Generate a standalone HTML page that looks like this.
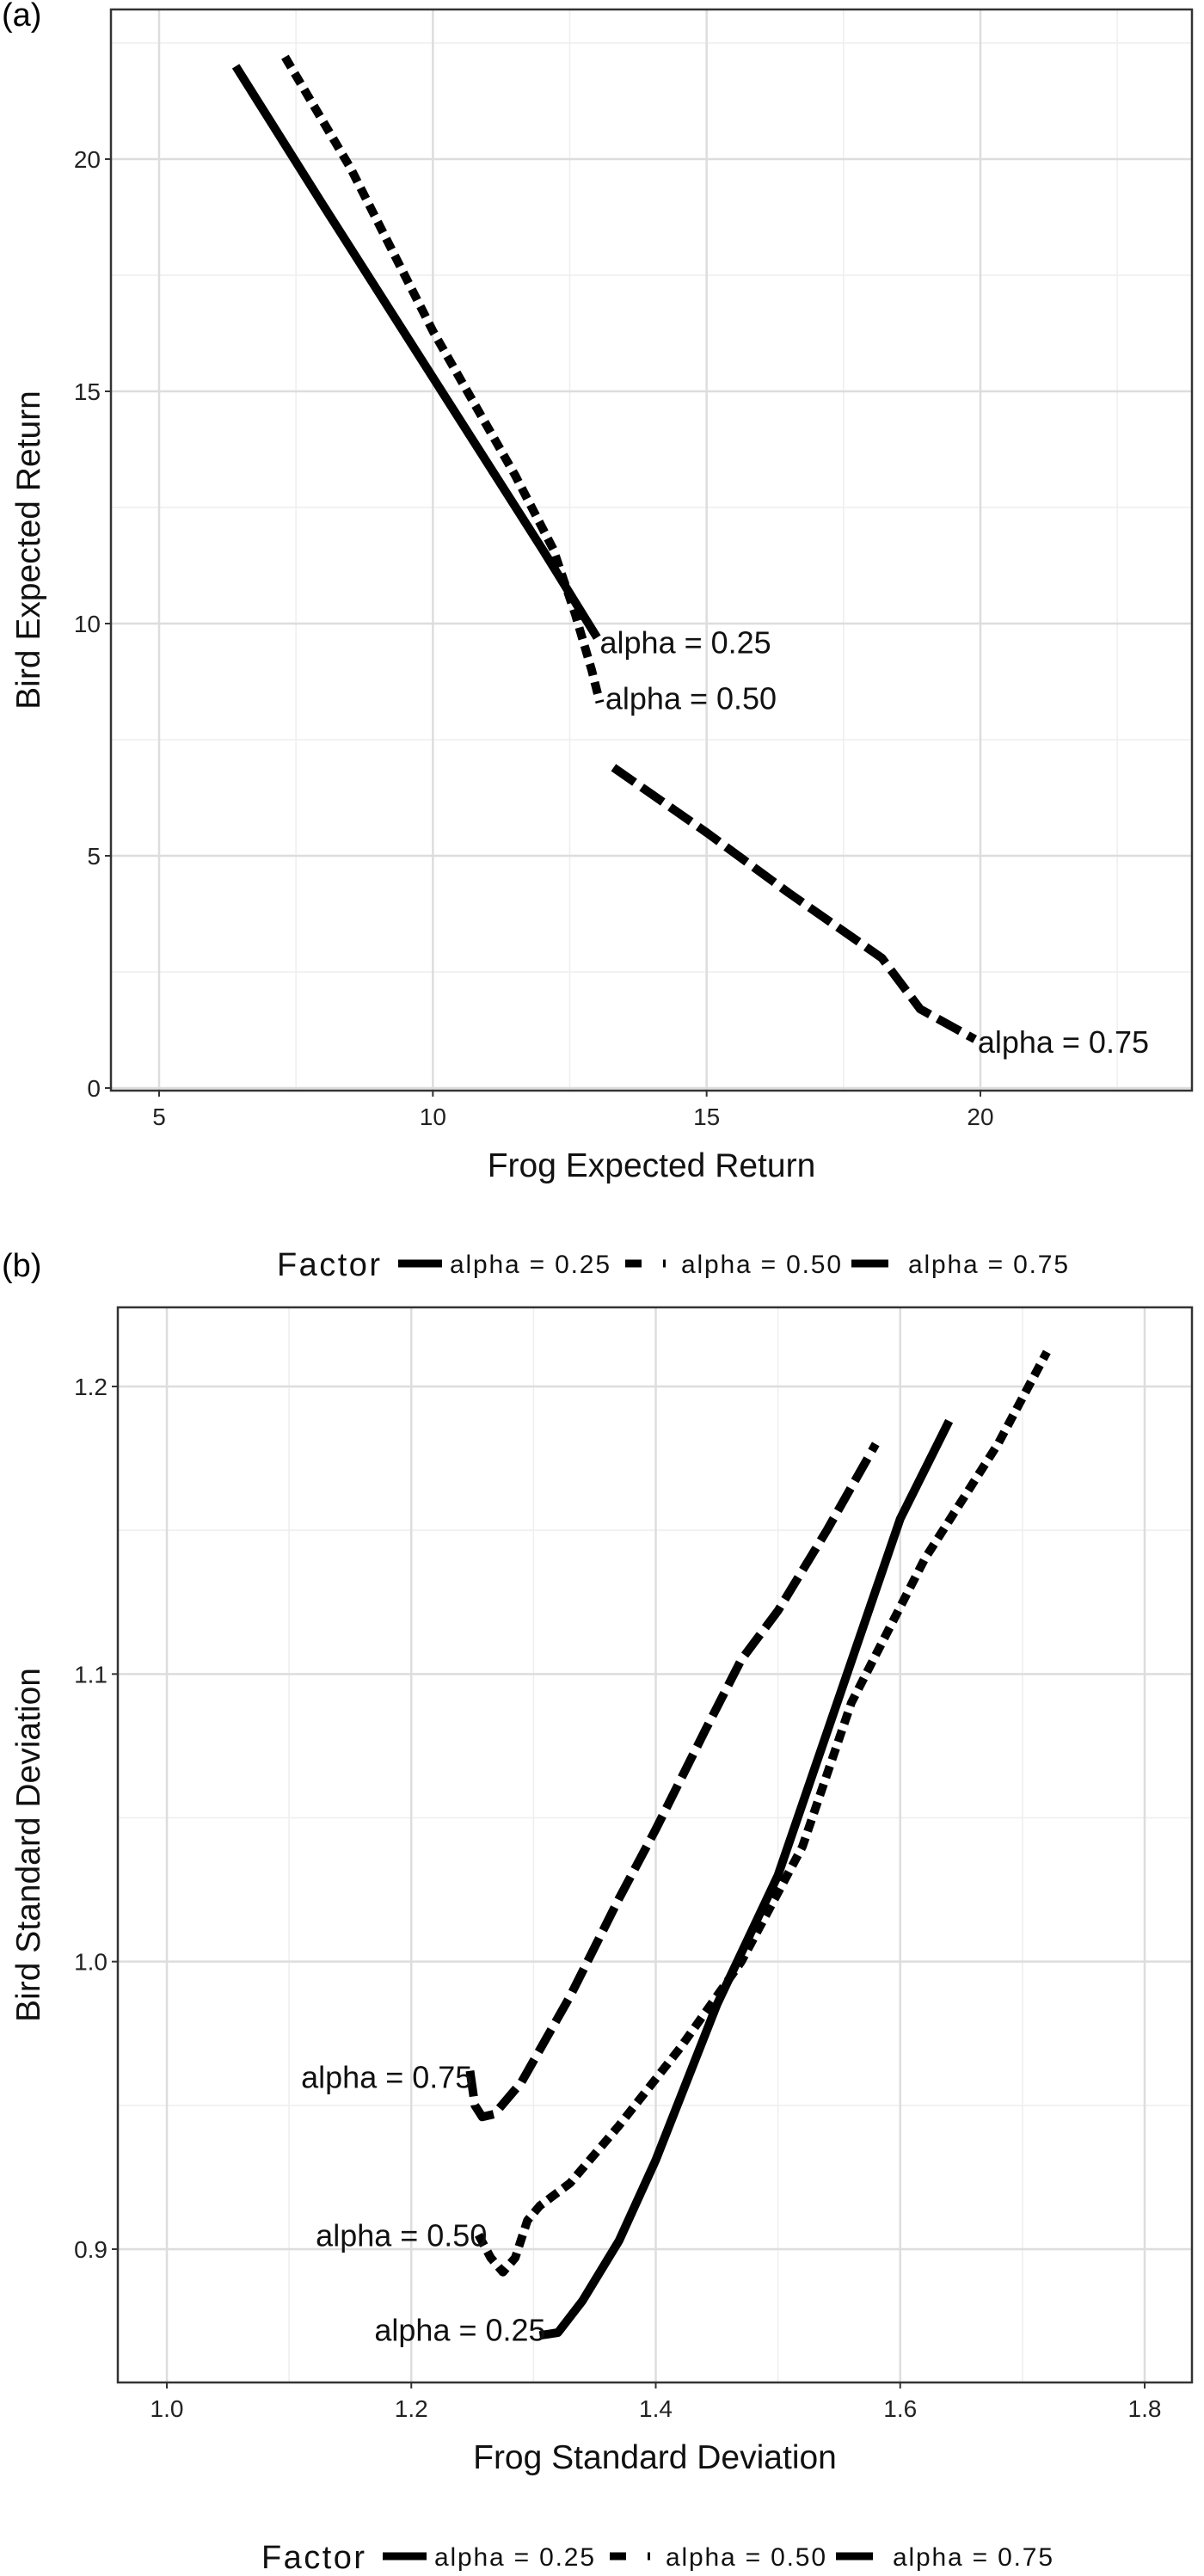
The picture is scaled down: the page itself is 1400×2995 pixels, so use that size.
<!DOCTYPE html>
<html><head><meta charset="utf-8"><style>
html,body{margin:0;padding:0;background:#fff;}
svg{display:block;font-family:"Liberation Sans",sans-serif;}
</style></head><body>
<svg id="fig" width="1400" height="2995" viewBox="0 0 1400 2995" xmlns="http://www.w3.org/2000/svg">
<text x="2" y="30" font-size="38">(a)</text>
<g id="pa"></g>
<text x="2" y="1484" font-size="38">(b)</text>
<g id="pb"></g>
</svg>
<script>
// Panel (a) data
const aXTicks=[5,10,15,20];
const aYTicks=[0,5,10,15,20];
const a25x=[6.4,8,10,12,13.0];
const a25y=[22.0,19.0,15.3,11.6,9.7];
const a50x=[7.3,8.5,10,11.5,12.2,12.6,12.9,13.05];
const a50y=[22.2,19.8,16.3,13.2,11.6,10.2,9.0,8.3];
const a75x=[13.3,15,16.5,18.2,18.9,19.9];
const a75y=[6.9,5.5,4.2,2.8,1.7,1.05];
// Panel (b) data
const bXTicks=[1.0,1.2,1.4,1.6,1.8];
const bYTicks=[0.9,1.0,1.1,1.2];
const b25x=[1.305,1.32,1.34,1.37,1.40,1.45,1.50,1.55,1.60,1.64];
const b25y=[0.870,0.871,0.882,0.903,0.931,0.985,1.030,1.092,1.154,1.188];
const b50x=[1.255,1.265,1.275,1.285,1.295,1.305,1.33,1.37,1.42,1.47,1.52,1.56,1.62,1.68,1.72];
const b50y=[0.905,0.897,0.892,0.897,0.910,0.915,0.923,0.943,0.970,1.000,1.040,1.090,1.140,1.180,1.212];
const b75x=[1.248,1.252,1.258,1.268,1.29,1.33,1.37,1.40,1.44,1.47,1.50,1.54,1.58];
const b75y=[0.962,0.950,0.946,0.947,0.958,0.988,1.022,1.046,1.080,1.105,1.122,1.150,1.180];

const NS="http://www.w3.org/2000/svg";
function mk(parent,tag,attrs,txt){const e=document.createElementNS(NS,tag);for(const k in attrs)e.setAttribute(k,attrs[k]);if(txt!==undefined)e.textContent=txt;parent.appendChild(e);return e;}

function panel(g,box,xr,yr,xt,yt,minorX,minorY,xTitle,yTitle,fmt){
  const sx=v=>box.x0+(v-xr[0])/(xr[1]-xr[0])*(box.x1-box.x0);
  const sy=v=>box.y0+(v-yr[0])/(yr[1]-yr[0])*(box.y1-box.y0);
  mk(g,'rect',{x:box.l,y:box.t,width:box.r-box.l,height:box.b-box.t,fill:'#fff'});
  minorX.forEach(v=>{const l=mk(g,'line',{x1:sx(v),x2:sx(v),y1:box.t,y2:box.b,stroke:'#eeeeee','stroke-width':1.5});});
  minorY.forEach(v=>{const l=mk(g,'line',{y1:sy(v),y2:sy(v),x1:box.l,x2:box.r,stroke:'#eeeeee','stroke-width':1.5});});
  xt.forEach(v=>{const l=mk(g,'line',{x1:sx(v),x2:sx(v),y1:box.t,y2:box.b,stroke:'#dddddd','stroke-width':2.5});
    mk(g,'line',{x1:sx(v),x2:sx(v),y1:box.b,y2:box.b+7,stroke:'#333','stroke-width':2});
    const t=mk(g,'text',{x:sx(v),y:box.b+40,'font-size':28,'text-anchor':'middle',fill:'#222'},fmt(v));});
  yt.forEach(v=>{const l=mk(g,'line',{y1:sy(v),y2:sy(v),x1:box.l,x2:box.r,stroke:'#dddddd','stroke-width':2.5});
    mk(g,'line',{y1:sy(v),y2:sy(v),x1:box.l-7,x2:box.l,stroke:'#333','stroke-width':2});
    const t=mk(g,'text',{x:box.l-12,y:sy(v)+10,'font-size':28,'text-anchor':'end',fill:'#222'},fmt(v));});
  const fr=mk(g,'rect',{x:box.l,y:box.t,width:box.r-box.l,height:box.b-box.t,fill:'none',stroke:'#333','stroke-width':2.5});
  const xtT=mk(g,'text',{x:(box.l+box.r)/2,y:box.b+100,'font-size':39,'text-anchor':'middle',fill:'#111'},xTitle);
  const cy=(box.t+box.b)/2;
  const ytT=mk(g,'text',{x:0,y:0,'font-size':39,'text-anchor':'middle',fill:'#111',transform:`translate(46,${cy}) rotate(-90)`},yTitle);
  return {sx,sy};
}
function series(g,s,xs,ys,dash,name){
  const d=xs.map((x,i)=>(i?'L':'M')+s.sx(x).toFixed(1)+','+s.sy(ys[i]).toFixed(1)).join(' ');
  const p=mk(g,'path',{d,fill:'none',stroke:'#000','stroke-width':10,'stroke-linejoin':'round'});
  if(dash)p.setAttribute('stroke-dasharray',dash);
  
  
}
function label(g,s,x,y,txt,anchor){
  const t=mk(g,'text',{x:s.sx(x),y:s.sy(y)+13,'font-size':36,'text-anchor':anchor,fill:'#111'},txt);
  
  
}
function legend(g,y,shift){
  const t=mk(g,'text',{x:322+shift,y:y+14,'font-size':38,fill:'#111',textLength:120},'Factor');
  
  const k1=mk(g,'line',{x1:463+shift,x2:514+shift,y1:y,y2:y,stroke:'#000','stroke-width':9});
  
  const l1=mk(g,'text',{x:523+shift,y:y+11,'font-size':30,fill:'#111',textLength:186},'alpha = 0.25');
  
  const k2=mk(g,'line',{x1:727+shift,x2:746+shift,y1:y,y2:y,stroke:'#000','stroke-width':9});
  
  mk(g,'line',{x1:771+shift,x2:774+shift,y1:y,y2:y,stroke:'#000','stroke-width':9});
  const l2=mk(g,'text',{x:792+shift,y:y+11,'font-size':30,fill:'#111',textLength:186},'alpha = 0.50');
  
  const k3=mk(g,'line',{x1:990+shift,x2:1033+shift,y1:y,y2:y,stroke:'#000','stroke-width':9});
  
  const l3=mk(g,'text',{x:1056+shift,y:y+11,'font-size':30,fill:'#111',textLength:186},'alpha = 0.75');
  
}

const ga=document.getElementById('pa');
const sa=panel(ga,{l:129,r:1386,t:11,b:1268,x0:185,x1:1140,y0:1265,y1:185},[5,20],[0,20],aXTicks,aYTicks,
  [7.5,12.5,17.5,22.5],[2.5,7.5,12.5,17.5,22.5],'Frog Expected Return','Bird Expected Return',v=>String(v));
series(ga,sa,a25x,a25y,null,'line-alpha-025');
series(ga,sa,a50x,a50y,'14 8','line-alpha-050');
series(ga,sa,a75x,a75y,'30 10','line-alpha-075');
label(ga,sa,13.05,9.6,'alpha = 0.25','start');
label(ga,sa,13.15,8.4,'alpha = 0.50','start');
label(ga,sa,19.95,1.0,'alpha = 0.75','start');

const gb=document.getElementById('pb');
legend(gb,1469,0);
const sb=panel(gb,{l:137,r:1386,t:1520,b:2770,x0:194,x1:1331,y0:2615,y1:1612},[1.0,1.8],[0.9,1.2],bXTicks,bYTicks,
  [1.1,1.3,1.5,1.7],[0.95,1.05,1.15],'Frog Standard Deviation','Bird Standard Deviation',v=>v.toFixed(1));
series(gb,sb,b25x,b25y,null,'line-alpha-025');
series(gb,sb,b50x,b50y,'14 8','line-alpha-050');
series(gb,sb,b75x,b75y,'30 10','line-alpha-075');
label(gb,sb,1.25,0.960,'alpha = 0.75','end');
label(gb,sb,1.262,0.905,'alpha = 0.50','end');
label(gb,sb,1.31,0.872,'alpha = 0.25','end');
legend(gb,2972,-18);
</script>
</body></html>
